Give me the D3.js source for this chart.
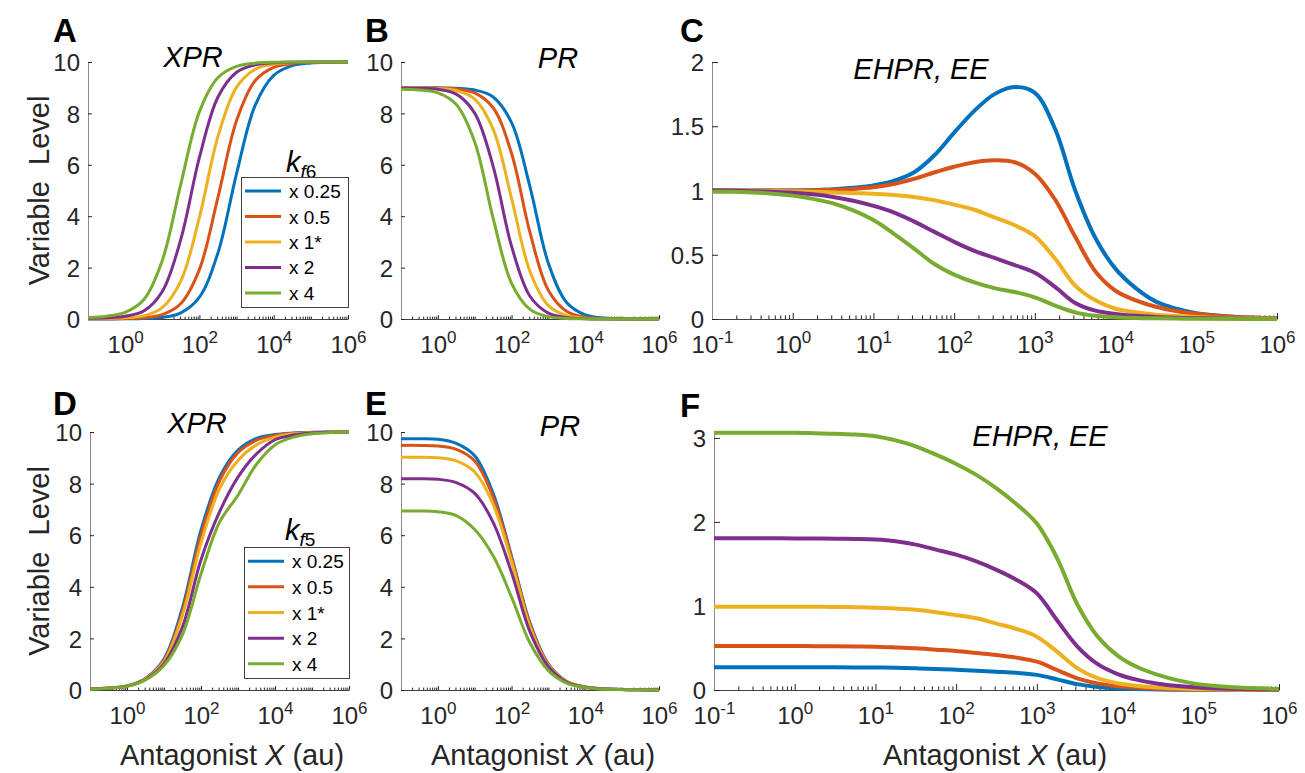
<!DOCTYPE html>
<html>
<head>
<meta charset="utf-8">
<script src="https://cdn.jsdelivr.net/npm/d3@7"></script>
<style>
  body { margin: 0; background: #fff; }
  svg text { font-family: "Liberation Sans", Arial, sans-serif; }
</style>
</head>
<body>
<svg id="fig" width="1305" height="773"></svg>
<script>
// x grids (antagonist X, au)
const xCoarse = [0.1, 0.3162, 1, 3.162, 10, 31.62, 100, 316.2, 1000, 3162, 1e4, 31623, 1e5, 316228, 1e6];
const xFine = [0.1, 0.1778, 0.3162, 0.5623, 1, 1.778, 3.162, 5.623, 10, 17.78, 31.62, 56.23, 100, 177.8, 316.2, 562.3,
  1000, 1778, 3162, 5623, 1e4, 17783, 31623, 56234, 1e5, 177828, 316228, 562341, 1e6];

const seriesLabels = ["x 0.25", "x 0.5", "x 1*", "x 2", "x 4"];
const colors = ["#0072BD", "#D95319", "#EDB120", "#7E2F8E", "#77AC30"];

// A: XPR, k_f6 varied (xCoarse)
const xprKf6 = [
  [0, 0.003, 0.008, 0.02, 0.065, 0.24, 0.85, 2.58, 5.66, 8.31, 9.48, 9.86, 9.96, 9.99, 10],
  [0.005, 0.01, 0.02, 0.045, 0.167, 0.6, 1.93, 4.74, 7.72, 9.27, 9.79, 9.94, 9.99, 10, 10],
  [0.015, 0.03, 0.05, 0.12, 0.44, 1.48, 3.96, 7.11, 9.02, 9.72, 9.92, 9.98, 10, 10, 10],
  [0.03, 0.05, 0.11, 0.31, 1.07, 3.11, 6.29, 8.64, 9.6, 9.89, 9.97, 9.99, 10, 10, 10],
  [0.06, 0.11, 0.26, 0.75, 2.28, 5.26, 8.07, 9.4, 9.83, 9.955, 9.99, 10, 10, 10, 10]
];
// B: PR, k_f6 varied (xCoarse)
const prKf6 = [
  [9.0, 9.0, 8.995, 8.98, 8.91, 8.64, 7.64, 5.14, 2.16, 0.63, 0.16, 0.04, 0.01, 0.002, 0],
  [9.0, 9.0, 8.99, 8.95, 8.8, 8.22, 6.44, 3.36, 1.11, 0.29, 0.07, 0.017, 0.004, 0.001, 0],
  [9.0, 8.99, 8.97, 8.89, 8.56, 7.39, 4.69, 1.85, 0.52, 0.13, 0.032, 0.008, 0.002, 0, 0],
  [8.99, 8.98, 8.94, 8.75, 8.01, 5.94, 2.83, 0.885, 0.226, 0.054, 0.013, 0.003, 0.001, 0, 0],
  [8.94, 8.91, 8.8, 8.35, 6.89, 3.92, 1.39, 0.375, 0.091, 0.022, 0.005, 0.001, 0, 0, 0]
];
// C: EHPR, EE, k_f6 varied (xFine)
const eeKf6 = [
  [1.0, 1.0, 1.0, 1.0, 1.0, 1.004, 1.01, 1.022, 1.04, 1.075, 1.14, 1.27, 1.45, 1.62, 1.75, 1.805, 1.76, 1.48, 1.0, 0.63, 0.39, 0.24, 0.135, 0.08, 0.045, 0.027, 0.016, 0.009, 0.005],
  [1.0, 1.0, 1.0, 1.0, 1.0, 1.002, 1.006, 1.012, 1.025, 1.05, 1.09, 1.14, 1.185, 1.22, 1.235, 1.22, 1.13, 0.93, 0.64, 0.37, 0.22, 0.145, 0.095, 0.062, 0.04, 0.025, 0.015, 0.009, 0.005],
  [1.0, 1.0, 0.998, 0.996, 0.993, 0.99, 0.985, 0.98, 0.975, 0.965, 0.95, 0.925, 0.89, 0.85, 0.79, 0.73, 0.645, 0.47, 0.26, 0.145, 0.08, 0.052, 0.034, 0.024, 0.016, 0.01, 0.007, 0.005, 0.003],
  [1.0, 1.0, 0.995, 0.99, 0.983, 0.97, 0.95, 0.92, 0.88, 0.83, 0.76, 0.68, 0.60, 0.53, 0.475, 0.42, 0.36, 0.25, 0.125, 0.065, 0.04, 0.025, 0.016, 0.01, 0.007, 0.005, 0.003, 0.002, 0.001],
  [0.99, 0.99, 0.985, 0.975, 0.96, 0.935, 0.90, 0.845, 0.77, 0.665, 0.55, 0.43, 0.345, 0.285, 0.24, 0.21, 0.168, 0.105, 0.052, 0.025, 0.014, 0.008, 0.005, 0.003, 0.002, 0.001, 0.001, 0, 0]
];
// D: XPR, k_f5 varied (xCoarse)
const xprKf5 = [
  [0.04, 0.08, 0.16, 0.45, 1.2, 3.2, 6.2, 8.25, 9.3, 9.75, 9.9, 9.96, 9.99, 10, 10],
  [0.04, 0.08, 0.16, 0.44, 1.15, 3.05, 6.0, 8.1, 9.2, 9.68, 9.87, 9.95, 9.98, 10, 10],
  [0.04, 0.08, 0.15, 0.43, 1.1, 2.9, 5.7, 7.8, 8.9, 9.5, 9.8, 9.93, 9.97, 9.99, 10],
  [0.04, 0.07, 0.15, 0.41, 1.02, 2.45, 5.05, 6.9, 8.25, 9.15, 9.7, 9.88, 9.96, 9.99, 10],
  [0.04, 0.07, 0.14, 0.39, 0.95, 2.15, 4.5, 6.5, 7.55, 8.75, 9.5, 9.8, 9.93, 9.98, 10]
];
// E: PR, k_f5 varied (xCoarse)
const prKf5 = [
  [9.74, 9.74, 9.72, 9.56, 9.08, 7.62, 5.18, 2.6, 1.0, 0.33, 0.12, 0.045, 0.016, 0.005, 0.002],
  [9.48, 9.48, 9.46, 9.33, 8.88, 7.48, 5.12, 2.55, 0.98, 0.32, 0.12, 0.045, 0.016, 0.005, 0.002],
  [9.02, 9.02, 9.0, 8.88, 8.45, 7.2, 4.98, 2.45, 0.95, 0.32, 0.11, 0.04, 0.015, 0.005, 0.002],
  [8.19, 8.19, 8.17, 8.04, 7.62, 6.5, 4.55, 2.25, 0.9, 0.3, 0.11, 0.04, 0.015, 0.005, 0.002],
  [6.94, 6.94, 6.91, 6.76, 6.22, 5.2, 3.6, 1.82, 0.75, 0.26, 0.1, 0.038, 0.014, 0.005, 0.002]
];
// F: EHPR, EE, k_f5 varied (xFine)
const eeKf5 = [
  [0.27, 0.27, 0.27, 0.27, 0.27, 0.27, 0.27, 0.269, 0.268, 0.264, 0.258, 0.25, 0.242, 0.23, 0.218, 0.205, 0.18, 0.127, 0.07, 0.036, 0.02, 0.012, 0.007, 0.004, 0.002, 0.001, 0.001, 0, 0],
  [0.524, 0.524, 0.524, 0.524, 0.523, 0.522, 0.52, 0.518, 0.516, 0.507, 0.496, 0.48, 0.464, 0.44, 0.417, 0.385, 0.337, 0.238, 0.139, 0.079, 0.044, 0.026, 0.016, 0.01, 0.006, 0.004, 0.002, 0.001, 0],
  [0.99, 0.99, 0.99, 0.99, 0.99, 0.99, 0.988, 0.985, 0.98, 0.97, 0.955, 0.925, 0.89, 0.853, 0.79, 0.726, 0.635, 0.456, 0.26, 0.14, 0.08, 0.048, 0.03, 0.018, 0.01, 0.007, 0.004, 0.002, 0.001],
  [1.806, 1.806, 1.806, 1.805, 1.804, 1.802, 1.80, 1.797, 1.79, 1.77, 1.73, 1.67, 1.61, 1.53, 1.43, 1.31, 1.15, 0.83, 0.52, 0.31, 0.19, 0.12, 0.075, 0.047, 0.029, 0.018, 0.011, 0.007, 0.004],
  [3.06, 3.06, 3.06, 3.06, 3.06, 3.055, 3.05, 3.04, 3.02, 2.97, 2.90, 2.80, 2.69, 2.56, 2.40, 2.21, 1.98, 1.57, 1.02, 0.64, 0.41, 0.27, 0.18, 0.115, 0.07, 0.045, 0.03, 0.02, 0.013]
];

// tick labels
const xTicksEven = [1, 1e2, 1e4, 1e6];
const xTicksAll = [0.1, 1, 10, 1e2, 1e3, 1e4, 1e5, 1e6];
const yTicksTen = [0, 2, 4, 6, 8, 10];
const yTicksC = [0, 0.5, 1, 1.5, 2];
const yTicksF = [0, 1, 2, 3];

const TICK_COL = "#262626";
const svg = d3.select("#fig");

const panels = [
  { letter: "A", lx: 53, ly: 42, left: 88, right: 348, top: 62, bottom: 319, yMax: 10, yTicks: yTicksTen, xTicks: xTicksEven,
    xs: xCoarse, series: xprKf6, title: "XPR", tx: 193, ty: 67, lw: 3, tick: 4, ylab: true,
    legend: { x: 241, y: 177, w: 107, h: 130, sub: "6", kx: 286, ky: 172 } },
  { letter: "B", lx: 365, ly: 42, left: 401, right: 659, top: 62, bottom: 319, yMax: 10, yTicks: yTicksTen, xTicks: xTicksEven,
    xs: xCoarse, series: prKf6, title: "PR", tx: 558, ty: 68, lw: 3, tick: 4 },
  { letter: "C", lx: 680, ly: 42, left: 712, right: 1277, top: 62, bottom: 319, yMax: 2, yTicks: yTicksC, xTicks: xTicksAll,
    xs: xFine, series: eeKf6, title: "EHPR, EE", tx: 921, ty: 79, lw: 4, tick: 6 },
  { letter: "D", lx: 53, ly: 415, left: 90, right: 349, top: 432, bottom: 690, yMax: 10, yTicks: yTicksTen, xTicks: xTicksEven,
    xs: xCoarse, series: xprKf5, title: "XPR", tx: 197, ty: 433, lw: 3, tick: 4, ylab: true, xlab: 232,
    legend: { x: 244, y: 547, w: 105, h: 131, sub: "5", kx: 285, ky: 540 } },
  { letter: "E", lx: 365, ly: 415, left: 401, right: 659, top: 432, bottom: 690, yMax: 10, yTicks: yTicksTen, xTicks: xTicksEven,
    xs: xCoarse, series: prKf5, title: "PR", tx: 560, ty: 436, lw: 3, tick: 4, xlab: 543 },
  { letter: "F", lx: 680, ly: 417, left: 714, right: 1279, top: 432, bottom: 690, yMax: 3.07, yTicks: yTicksF, xTicks: xTicksAll,
    xs: xFine, series: eeKf5, title: "EHPR, EE", tx: 1040, ty: 446, lw: 4, tick: 6, xlab: 995 }
];

function powLabel(text, v) {
  const e = Math.round(Math.log10(v));
  text.text(null);
  text.append("tspan").text("10");
  text.append("tspan").attr("font-size", 17).attr("dy", -10).text(e);
}

function drawPanel(p) {
  const x = d3.scaleLog().domain([0.1, 1e6]).range([p.left, p.right]);
  const y = d3.scaleLinear().domain([0, p.yMax]).range([p.bottom, p.top]);
  const g = svg.append("g");

  // minor x ticks
  const minors = x.ticks().filter(v => !p.xTicks.some(t => Math.abs(t - v) / t < 1e-6));
  const gm = g.append("g").attr("transform", `translate(0,${p.bottom})`)
    .call(d3.axisBottom(x).tickValues(minors).tickFormat(() => "").tickSizeInner(-p.tick * 0.6).tickSizeOuter(0));
  gm.select(".domain").remove();
  gm.selectAll(".tick line").attr("stroke", TICK_COL);

  // major x ticks
  const gx = g.append("g").attr("transform", `translate(0,${p.bottom})`)
    .call(d3.axisBottom(x).tickValues(p.xTicks).tickSizeInner(-p.tick).tickSizeOuter(0).tickPadding(0));
  gx.attr("font-size", null).attr("font-family", null);
  gx.select(".domain").attr("stroke", "#404040");
  gx.selectAll(".tick line").attr("stroke", TICK_COL);
  gx.selectAll(".tick text").attr("y", 34).attr("dy", null).attr("font-size", 24).attr("fill", TICK_COL)
    .each(function (d) { powLabel(d3.select(this), d); });

  // y axis
  const gy = g.append("g").attr("transform", `translate(${p.left},0)`)
    .call(d3.axisLeft(y).tickValues(p.yTicks).tickFormat(d3.format("")).tickSizeInner(-p.tick).tickSizeOuter(0).tickPadding(8));
  gy.attr("font-size", null).attr("font-family", null);
  gy.select(".domain").attr("stroke", "#8a8a8a");
  gy.selectAll(".tick line").attr("stroke", TICK_COL);
  gy.selectAll(".tick text").attr("font-size", 24).attr("fill", TICK_COL).attr("dy", "0.36em");

  // curves
  const line = d3.line().x(d => x(d[0])).y(d => y(d[1])).curve(d3.curveCatmullRom.alpha(0.5));
  p.series.forEach((vals, i) => {
    g.append("path")
      .datum(p.xs.map((xv, j) => [xv, vals[j]]))
      .attr("d", line)
      .attr("fill", "none")
      .attr("stroke", colors[i])
      .attr("stroke-width", p.lw)
      .attr("stroke-linejoin", "round");
  });

  // title
  g.append("text").attr("x", p.tx).attr("y", p.ty).attr("text-anchor", "middle")
    .attr("font-size", 29).attr("font-style", "italic").attr("fill", "#000").text(p.title);

  // panel letter
  g.append("text").attr("x", p.lx).attr("y", p.ly).attr("font-size", 33).attr("font-weight", "bold")
    .attr("fill", "#000").text(p.letter);

  if (p.ylab) {
    g.append("text")
      .attr("transform", `translate(49,${(p.top + p.bottom) / 2}) rotate(-90)`)
      .attr("text-anchor", "middle").attr("font-size", 29).attr("fill", TICK_COL)
      .style("white-space", "pre").text("Variable  Level");
  }
  if (p.xlab) {
    const t = g.append("text").attr("x", p.xlab).attr("y", 765).attr("text-anchor", "middle")
      .attr("font-size", 29).attr("fill", TICK_COL).style("white-space", "pre");
    t.append("tspan").text("Antagonist ");
    t.append("tspan").attr("font-style", "italic").text("X");
    t.append("tspan").text(" (au)");
  }

  if (p.legend) {
    const L = p.legend;
    const kt = g.append("text").attr("x", L.kx).attr("y", L.ky).attr("fill", "#000");
    kt.append("tspan").attr("font-size", 29).attr("font-style", "italic").text("k");
    kt.append("tspan").attr("font-size", 19).attr("font-style", "italic").attr("dy", 6).text("f");
    kt.append("tspan").attr("font-size", 19).text(L.sub);

    const lg = g.append("g");
    lg.append("rect").attr("x", L.x + 0.5).attr("y", L.y + 0.5).attr("width", L.w).attr("height", L.h)
      .attr("fill", "#fff").attr("stroke", "#404040").attr("stroke-width", 1);
    const step = L.h / 5.1;
    seriesLabels.forEach((lab, i) => {
      const cy = L.y + step * (0.55 + i);
      lg.append("line").attr("x1", L.x + 4).attr("x2", L.x + 40).attr("y1", cy).attr("y2", cy)
        .attr("stroke", colors[i]).attr("stroke-width", 3);
      lg.append("text").attr("x", L.x + 48).attr("y", cy + 7).attr("font-size", 19).attr("fill", "#000").text(lab);
    });
  }
}

panels.forEach(drawPanel);
</script>
</body>
</html>
